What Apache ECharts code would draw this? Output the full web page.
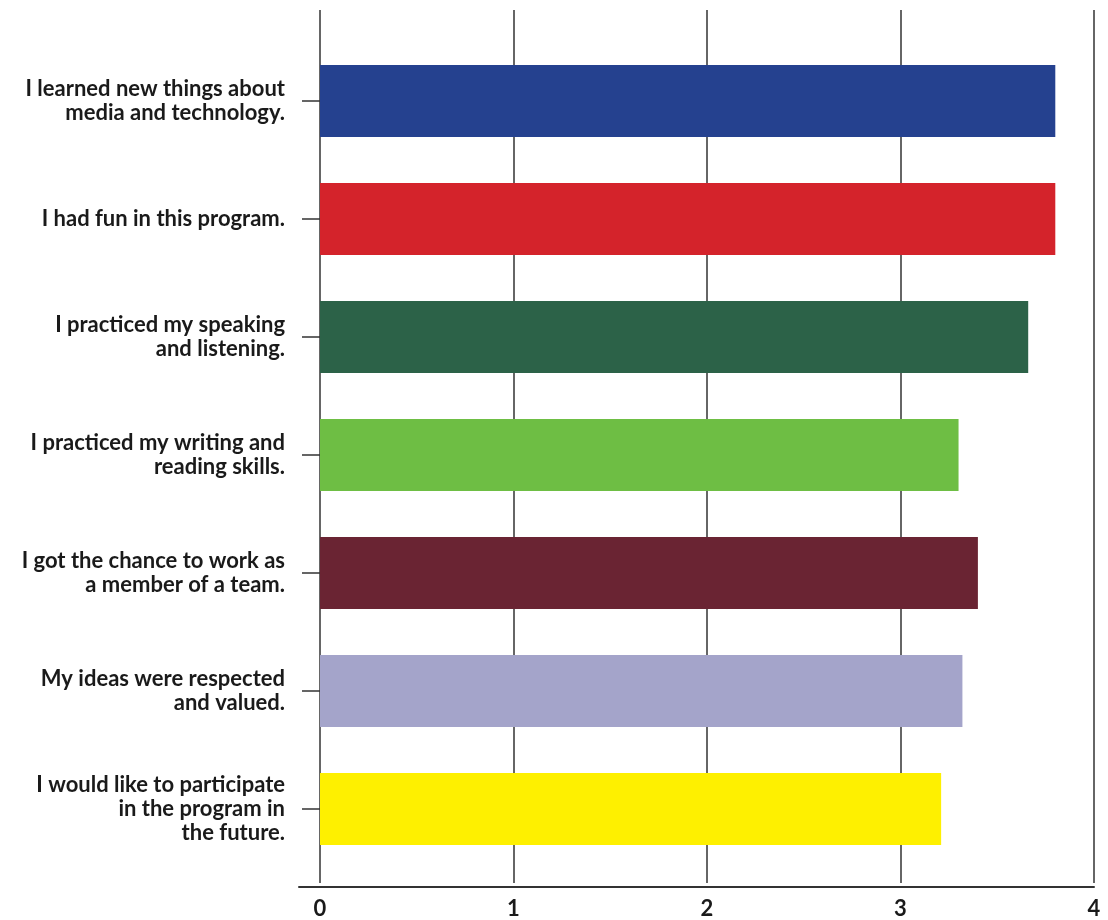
<!DOCTYPE html>
<html>
<head>
<meta charset="utf-8">
<script src="https://cdn.jsdelivr.net/npm/echarts@6/dist/echarts.min.js"></script>
<style>
html,body{margin:0;padding:0;background:#fff;}
#chart{width:1108px;height:920px;}
</style>
</head>
<body>
<div id="chart"></div>
<script>
const categories = [
  "I learned new things about\nmedia and technology.",
  "I had fun in this program.",
  "I practiced my speaking\nand listening.",
  "I practiced my writing and\nreading skills.",
  "I got the chance to work as\na member of a team.",
  "My ideas were respected\nand valued.",
  "I would like to participate\nin the program in\nthe future."
];
const values = [3.80, 3.80, 3.66, 3.30, 3.40, 3.32, 3.21];
const xTicks = [0, 1, 2, 3, 4];
const barColors = ["#25418F", "#D4232B", "#2C6248", "#6EBE44", "#6A2433", "#A4A4CA", "#FEF000"];

const FONT = "Lato";
const chart = echarts.init(document.getElementById('chart'));
chart.setOption({
  animation: false,
  backgroundColor: '#ffffff',
  grid: [
    {left: 320, right: 14, top: 10, bottom: 33},
    {left: 320, right: 14, top: 42, bottom: 52},
    {left: 299, right: 14, top: 887, bottom: 33}
  ],
  xAxis: [
    {
      gridIndex: 0, type: 'value', min: xTicks[0], max: xTicks[xTicks.length - 1], interval: 1,
      axisLine: {show: false},
      axisTick: {show: false},
      axisLabel: {show: true, margin: 15, color: '#1a1a1a', fontFamily: FONT, fontSize: 22, fontWeight: 'bold'},
      splitLine: {show: true, lineStyle: {color: '#333333', width: 1.5}}
    },
    {
      gridIndex: 1, type: 'value', min: xTicks[0], max: xTicks[xTicks.length - 1],
      show: false, splitLine: {show: false}
    },
    {
      gridIndex: 2, type: 'value', min: 0, max: 1,
      axisLine: {show: true, onZero: false, lineStyle: {color: '#333333', width: 2}},
      axisTick: {show: false}, axisLabel: {show: false}, splitLine: {show: false}
    }
  ],
  yAxis: [
    {gridIndex: 0, type: 'value', show: false, splitLine: {show: false}},
    {
      gridIndex: 1, type: 'category', data: categories, inverse: true,
      axisLine: {show: false},
      axisTick: {show: true, alignWithLabel: true, length: 18, lineStyle: {color: '#333333', width: 1.5}},
      axisLabel: {margin: 35, color: '#1a1a1a', fontFamily: FONT, fontSize: 22, fontWeight: 'bold', lineHeight: 24, align: 'right'},
      splitLine: {show: false}
    },
    {gridIndex: 2, type: 'value', show: false, splitLine: {show: false}}
  ],
  series: [{
    type: 'bar',
    xAxisIndex: 1, yAxisIndex: 1,
    barCategoryGap: '39%',
    data: values.map((v, i) => ({value: v, itemStyle: {color: barColors[i]}}))
  }]
});
</script>
</body>
</html>
